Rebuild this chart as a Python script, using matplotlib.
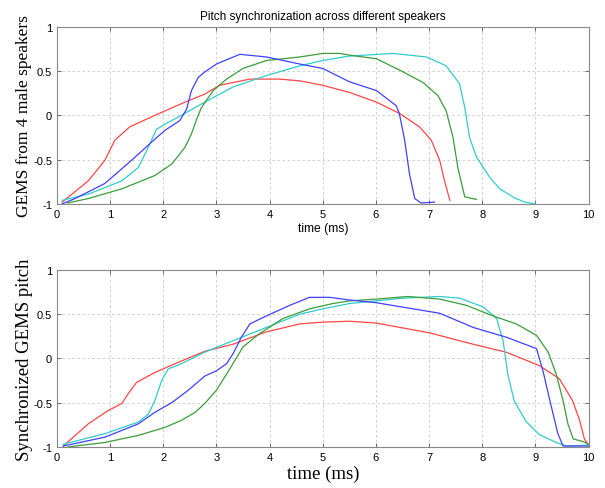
import matplotlib
matplotlib.use('Agg')
import matplotlib.pyplot as plt

# top panel: raw GEMS traces (time ms, amplitude)
red_t = [0.1, 0.59, 0.9, 1.09, 1.37, 1.84, 2.41, 2.78, 3.06, 3.63, 4.19, 4.57, 5.0, 5.5, 6.01, 6.45, 6.82, 7.04, 7.2, 7.29, 7.39]
red_a = [-0.98, -0.74, -0.51, -0.28, -0.13, 0.0, 0.15, 0.24, 0.34, 0.41, 0.41, 0.39, 0.34, 0.26, 0.15, 0.02, -0.13, -0.28, -0.51, -0.74, -0.96]
blue_t = [0.1, 0.34, 0.9, 1.4, 1.84, 2.03, 2.31, 2.44, 2.53, 2.66, 2.78, 3.0, 3.44, 3.94, 4.57, 5.0, 5.5, 6.01, 6.38, 6.44, 6.54, 6.63, 6.73, 6.85, 7.1]
blue_a = [-1.0, -0.94, -0.77, -0.51, -0.27, -0.17, -0.06, 0.07, 0.28, 0.43, 0.49, 0.58, 0.69, 0.66, 0.58, 0.53, 0.38, 0.28, 0.11, 0.02, -0.28, -0.66, -0.94, -0.99, -0.98]
cyan_t = [0.1, 0.59, 1.22, 1.53, 1.72, 1.87, 2.03, 2.34, 2.78, 3.31, 3.94, 4.57, 5.0, 5.5, 6.32, 6.95, 7.32, 7.57, 7.67, 7.76, 7.89, 8.14, 8.33, 8.6, 8.8, 9.0]
cyan_a = [-0.96, -0.89, -0.74, -0.59, -0.36, -0.16, -0.1, 0.0, 0.15, 0.32, 0.45, 0.56, 0.62, 0.67, 0.7, 0.66, 0.56, 0.36, 0.09, -0.25, -0.47, -0.7, -0.83, -0.93, -0.98, -1.0]
green_t = [0.2, 0.59, 1.22, 1.84, 2.16, 2.41, 2.53, 2.63, 2.72, 2.94, 3.19, 3.5, 3.94, 4.57, 5.0, 5.32, 5.51, 6.01, 6.45, 6.89, 7.17, 7.32, 7.45, 7.54, 7.67, 7.89]
green_a = [-0.99, -0.94, -0.83, -0.68, -0.55, -0.36, -0.21, -0.04, 0.09, 0.28, 0.41, 0.53, 0.62, 0.66, 0.7, 0.7, 0.68, 0.64, 0.51, 0.37, 0.22, 0.05, -0.25, -0.59, -0.92, -0.95]

# bottom panel: synchronized traces
sred_t = [0.12, 0.59, 0.96, 1.22, 1.34, 1.5, 1.84, 2.22, 2.78, 3.31, 3.94, 4.57, 5.0, 5.5, 6.0, 7.0, 7.83, 8.45, 9.07, 9.45, 9.7, 9.83, 9.92, 10.0]
sred_a = [-0.99, -0.74, -0.59, -0.51, -0.4, -0.27, -0.16, -0.06, 0.08, 0.16, 0.3, 0.39, 0.41, 0.42, 0.4, 0.29, 0.16, 0.07, -0.08, -0.23, -0.48, -0.7, -0.91, -0.98]
sblue_t = [0.12, 0.9, 1.53, 1.84, 2.16, 2.47, 2.78, 3.0, 3.19, 3.31, 3.47, 3.63, 3.94, 4.38, 4.75, 5.13, 5.5, 6.0, 7.2, 7.83, 8.45, 9.02, 9.14, 9.3, 9.42, 9.52, 10.0]
sblue_a = [-0.99, -0.89, -0.74, -0.61, -0.5, -0.36, -0.2, -0.14, -0.06, 0.05, 0.24, 0.39, 0.48, 0.6, 0.69, 0.69, 0.66, 0.63, 0.51, 0.35, 0.24, 0.11, -0.14, -0.55, -0.85, -0.99, -0.99]
scyan_t = [0.12, 0.9, 1.53, 1.72, 1.84, 1.97, 2.09, 2.34, 2.78, 3.31, 3.94, 4.57, 5.0, 5.5, 6.0, 6.5, 7.2, 7.58, 8.02, 8.27, 8.39, 8.48, 8.6, 8.82, 9.07, 9.39, 9.58, 10.0]
scyan_a = [-0.97, -0.85, -0.72, -0.63, -0.48, -0.25, -0.12, -0.06, 0.07, 0.2, 0.35, 0.5, 0.56, 0.62, 0.65, 0.68, 0.7, 0.68, 0.58, 0.45, 0.2, -0.18, -0.48, -0.71, -0.86, -0.95, -0.99, -0.98]
sgreen_t = [0.21, 0.9, 1.53, 2.03, 2.34, 2.6, 2.78, 3.0, 3.25, 3.5, 3.81, 4.25, 4.75, 5.19, 5.5, 6.0, 6.6, 7.2, 7.7, 8.2, 8.64, 9.02, 9.24, 9.39, 9.52, 9.61, 9.71, 9.9, 10.0]
sgreen_a = [-1.0, -0.95, -0.87, -0.78, -0.7, -0.61, -0.51, -0.36, -0.12, 0.13, 0.28, 0.45, 0.56, 0.62, 0.65, 0.67, 0.7, 0.67, 0.6, 0.48, 0.39, 0.26, 0.07, -0.18, -0.48, -0.74, -0.91, -0.94, -0.97]

yticks = [-1, -0.5, 0, 0.5, 1]
ytick_labels = ['-1', '-0.5', '0', '0.5', '1']

c_red, c_green, c_blue, c_cyan = '#ff4646', '#3c9c3c', '#4040ff', '#30cccc'

fig = plt.figure(figsize=(6.05, 4.89), dpi=100)
ax1 = fig.add_axes([0.094, 0.581, 0.879, 0.362])
ax2 = fig.add_axes([0.094, 0.084, 0.879, 0.362])


def style(ax):
    ax.set_xlim(0, 10)
    ax.set_ylim(-1, 1)
    ax.set_xticks(range(0, 11))
    ax.set_yticks(yticks)
    ax.set_yticklabels(ytick_labels)
    ax.grid(True, linestyle=(0, (3, 3)), color='#c8c8c8', linewidth=0.6)
    ax.tick_params(direction='in', length=3, top=True, right=True,
                   labelsize=8, colors='#555555', width=0.6)
    for lab in ax.get_xticklabels() + ax.get_yticklabels():
        lab.set_fontfamily('Liberation Sans')
        lab.set_color('black')
    for s in ax.spines.values():
        s.set_color('#888888')
        s.set_linewidth(0.8)


ax1.plot(red_t, red_a, color=c_red, lw=0.9)
ax1.plot(cyan_t, cyan_a, color=c_cyan, lw=0.9)
ax1.plot(green_t, green_a, color=c_green, lw=0.9)
ax1.plot(blue_t, blue_a, color=c_blue, lw=0.9)
style(ax1)
ax1.set_title('Pitch synchronization across different speakers', fontsize=8.5,
              family='Liberation Sans', pad=6)
ax1.set_xlabel('time (ms)', fontsize=8.7, family='Liberation Sans', labelpad=2)
ax1.set_ylabel('GEMS from 4 male speakers', fontsize=12.5, family='Liberation Serif', labelpad=1)

ax2.plot(sred_t, sred_a, color=c_red, lw=0.9)
ax2.plot(scyan_t, scyan_a, color=c_cyan, lw=0.9)
ax2.plot(sgreen_t, sgreen_a, color=c_green, lw=0.9)
ax2.plot(sblue_t, sblue_a, color=c_blue, lw=0.9)
style(ax2)
ax2.set_xlabel('time (ms)', fontsize=13.5, family='Liberation Serif', labelpad=2)
ax2.set_ylabel('Synchronized GEMS pitch', fontsize=13.5, family='Liberation Serif', labelpad=0)

fig.savefig('out.png', dpi=100)
